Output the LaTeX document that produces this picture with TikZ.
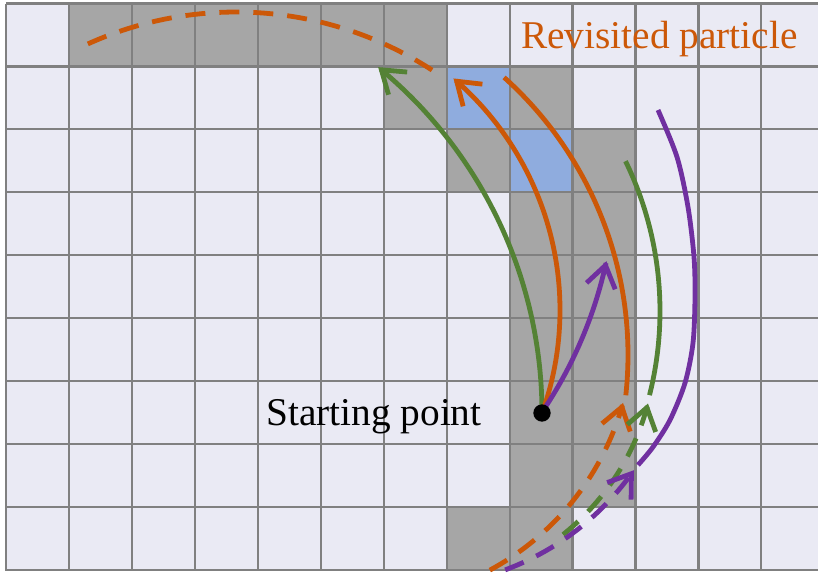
\documentclass[tikz,border=0pt]{standalone}
\usepackage{fontspec}
\setmainfont{Liberation Serif}
\usetikzlibrary{arrows.meta}
\definecolor{bgcell}{RGB}{234,234,244}
\definecolor{graycell}{RGB}{166,166,166}
\definecolor{bluecell}{RGB}{143,172,222}
\definecolor{gridline}{RGB}{128,128,128}
\definecolor{myorange}{RGB}{204,88,8}
\definecolor{mygreen}{RGB}{84,130,53}
\definecolor{mypurple}{RGB}{112,48,160}
\newcommand\cellsz{62.95}
\newcommand\cellfill[3]{\fill[#3] ({6+#1*\cellsz},{3.5+#2*\cellsz}) rectangle ({6+(#1+1)*\cellsz},{3.5+(#2+1)*\cellsz});}
% arc helper: center x, center y, radius, start angle, end angle
\newcommand\arcpts[5]{plot[domain=#4:#5, samples=60, smooth] ({#1+#3*cos(\x)},{#2-#3*sin(\x)})}
\tikzset{
  traj/.style={line width=3.6pt},
  arr/.style={-{Straight Barb[length=16pt,width=22pt]}},
  dsh/.style={dash pattern=on 15pt off 10.5pt},
  gridln/.style={draw=gridline, line width=1.6pt},
  dotnode/.style={circle, fill=black, inner sep=0pt, minimum size=13pt},
  lbl/.style={anchor=base west, inner sep=0pt, font=\fontsize{29.5}{32}\selectfont}
}
\begin{document}
\begin{tikzpicture}[x=0.75pt,y=-0.75pt]
\useasboundingbox (0,0) rectangle (818,572);
\begin{scope}
\clip (0,0) rectangle (818,572);
\fill[bgcell] (6,3.5) rectangle (835,570.5);
\foreach \cc in {1,...,6} {\cellfill{\cc}{0}{graycell}}
\cellfill{6}{1}{graycell}
\cellfill{8}{1}{graycell}
\cellfill{7}{2}{graycell}
\cellfill{9}{2}{graycell}
\foreach \rr in {3,...,7} {\cellfill{8}{\rr}{graycell}\cellfill{9}{\rr}{graycell}}
\cellfill{7}{8}{graycell}
\cellfill{8}{8}{graycell}
\cellfill{7}{1}{bluecell}
\cellfill{8}{2}{bluecell}
\foreach \ii in {0,...,13} {\draw[gridln] ({6+\ii*\cellsz},3.5) -- ({6+\ii*\cellsz},570.5);}
\foreach \jj in {0,...,9} {\draw[gridln] (6,{3.5+\jj*\cellsz}) -- (835,{3.5+\jj*\cellsz});}
\end{scope}

\node[lbl, text=myorange] (rev) at (521,48) {Revisited particle};
\node[lbl] (startlabel) at (266,425) {Starting point};

\coordinate (s) at (542,413);

% top dashed orange (wrapped trajectory)
\draw[traj, myorange, dsh] \arcpts{236}{372}{360}{114.3}{55.5};

% solid trajectories leaving the starting point
\draw[traj, mygreen, arr] \arcpts{95}{413}{447}{0}{50.7};
\draw[traj, myorange, arr] \arcpts{255}{310}{305}{-19.7}{49.4};
\draw[traj, mypurple, arr] \arcpts{186}{171}{430}{-34.2}{-12.1};

% solid returning arcs
\draw[traj, myorange] \arcpts{255}{355}{373}{48.1}{-6.2};
\draw[traj, mygreen] \arcpts{317}{311}{343}{25.9}{-14.2};
\coordinate (p2a) at (658,110);
\coordinate (p2b) at (638,465);
\draw[traj, mypurple] plot[smooth] coordinates {(p2a) (677,157) (688,207) (694,257) (695,297) (693,343) (685,383) (670,420) (653,447) (p2b)};

% dashed incoming arcs
\draw[traj, myorange, dsh, arr] \arcpts{360}{330}{273}{-61.6}{-15.5};
\draw[traj, mygreen, dsh, arr] \arcpts{408}{341}{248}{-51.3}{-14.6};
\draw[traj, mypurple, dsh, arr] \arcpts{410}{314}{273}{-69.6}{-34.9};

\node[dotnode] (start) at (s) {};
\end{tikzpicture}
\end{document}
